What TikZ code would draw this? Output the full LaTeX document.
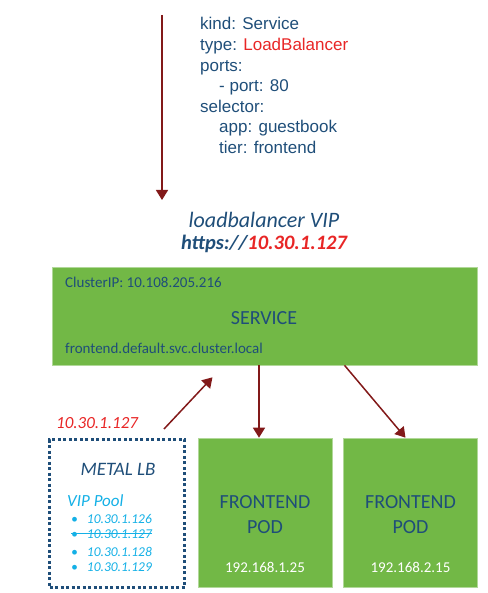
\documentclass[tikz,border=0pt]{standalone}
\usepackage{fontspec}
\setmainfont{Carlito}
\newfontfamily\arialfont{Liberation Sans}
\usetikzlibrary{arrows.meta, positioning, calc}

\definecolor{k8sblue}{RGB}{31,78,121}
\definecolor{podgreen}{RGB}{114,184,70}
\definecolor{vipred}{RGB}{232,38,38}
\definecolor{arrowred}{RGB}{130,25,25}
\definecolor{poolblue}{RGB}{20,176,230}

\tikzset{
    flow/.style={arrowred, line width=1.5pt, -{Triangle[length=10pt, width=12pt]}},
    greenbox/.style={fill=podgreen, draw=podgreen!55!white, line width=0.6pt, inner sep=0pt},
    lbbox/.style={draw=k8sblue, line width=3pt, dash pattern=on 3pt off 2.5pt, inner sep=0pt},
    yamltext/.style={text=k8sblue, font=\arialfont\fontsize{17}{20}\selectfont, inner sep=0pt, anchor=base west},
    boxtext/.style={text=k8sblue, font=\fontsize{15}{18}\selectfont, inner sep=0pt, anchor=base west},
    pooltext/.style={text=poolblue, font=\itshape\fontsize{13.5}{16}\selectfont, inner sep=0pt, anchor=base west}
}

\begin{document}
\begin{tikzpicture}[x=1pt, y=-1pt]
        \useasboundingbox (0,0) rectangle (487,593);

        % --- YAML SPEC ---
        \foreach \y/\dx/\txt in {30/0/{kind: Service}, 51/0/{type: \textcolor{vipred}{LoadBalancer}},
                72/0/{ports:}, 92/19/{- port: 80}, 113/0/{selector:},
                133/19/{app: guestbook}, 154/19/{tier: frontend}}
            \node[yamltext] (yaml\y) at (200+\dx,\y) {\txt};

        \coordinate (spectop) at (162,15);
        \coordinate (specend) at (162,200);
        \draw[flow] (spectop) -- (specend);

        % --- LOADBALANCER VIP ---
        \node[text=k8sblue, font=\itshape\fontsize{22}{26}\selectfont, inner sep=0pt, anchor=base] (viplabel) at (264,228) {loadbalancer VIP};
        \node[text=k8sblue, font=\bfseries\itshape\fontsize{20.5}{24}\selectfont, inner sep=0pt, anchor=base] (vipurl) at (264,250) {https://\textcolor{vipred}{10.30.1.127}};

        % --- SERVICE ---
        \node[greenbox, minimum width=425, minimum height=98] (service) at (264.5,316) {};
        \node[boxtext] (clusterip) at (65,287) {ClusterIP: 10.108.205.216};
        \node[boxtext, font=\fontsize{20}{24}\selectfont, anchor=base] (svcname) at (264,324) {SERVICE};
        \node[boxtext] (svcdns) at (65,353) {frontend.default.svc.cluster.local};

        % --- PODS ---
        \foreach \name/\x/\ip in {pod1/265/192.168.1.25, pod2/410.5/192.168.2.15} {
            \node[greenbox, minimum width=134, minimum height=149] (\name) at (\x,512.5) {};
            \node[boxtext, font=\fontsize{20}{24}\selectfont, anchor=base] (\name top) at (\x,508) {FRONTEND};
            \node[boxtext, font=\fontsize{20}{24}\selectfont, anchor=base] (\name kind) at (\x,533) {POD};
            \node[boxtext, text=white, anchor=base] (\name ip) at (\x,572) {\ip};
        }

        \draw[flow] ([xshift=-6pt]pod1.north |- service.south) -- ([xshift=-6pt]pod1.north);
        \draw[flow] ([xshift=80pt]service.south) -- ([xshift=-5pt]pod2.north);

        % --- METAL LB ---
        \node[lbbox, minimum width=135, minimum height=148] (metallb) at (117,513.5) {};
        \node[text=k8sblue, font=\itshape\fontsize{19}{22}\selectfont, inner sep=0pt, anchor=base] (lbname) at (118,475) {METAL LB};
        \node[pooltext, font=\itshape\fontsize{17}{20}\selectfont] (pooltitle) at (67,506) {VIP Pool};
        \node[pooltext] (pool126) at (71,523) {\textbullet\hspace*{9pt}10.30.1.126};
        \node[pooltext] (pool127) at (71,538) {\textbullet\hspace*{9pt}10.30.1.127};
        \node[pooltext] (pool128) at (71,556) {\textbullet\hspace*{9pt}10.30.1.128};
        \node[pooltext] (pool129) at (71,571) {\textbullet\hspace*{9pt}10.30.1.129};
        \draw[poolblue, line width=1pt] (pool127.west) -- (pool127.east); % used-up address

        \node[text=vipred, font=\itshape\fontsize{17}{20}\selectfont, inner sep=0pt, anchor=base west] (assigned) at (56,428) {10.30.1.127};
        \draw[flow] ([xshift=-22pt, yshift=9pt]metallb.north east) -- ([xshift=-52pt, yshift=-12pt]service.south);

    \end{tikzpicture}
\end{document}
